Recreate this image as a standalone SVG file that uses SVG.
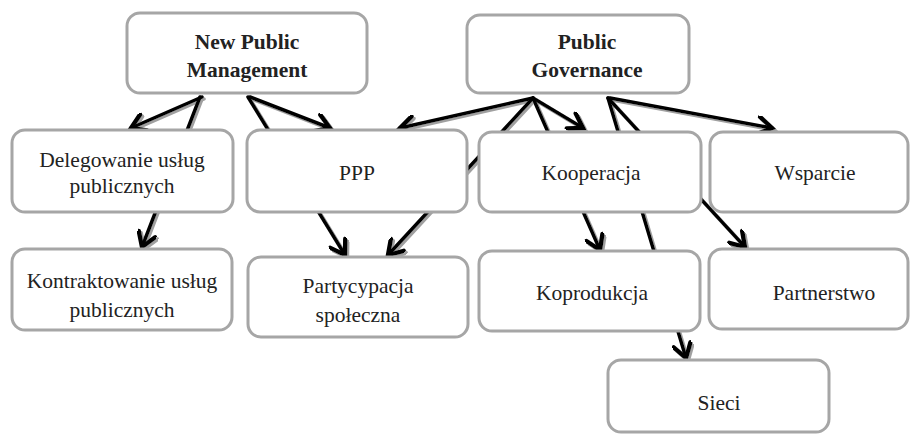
<svg xmlns="http://www.w3.org/2000/svg" width="922" height="438" viewBox="0 0 922 438">
<style>
.box{fill:#fff;stroke:#a6a6a6;stroke-width:3}
.t{font-family:"Liberation Serif","Times New Roman",serif;font-size:21.5px;fill:#222;text-anchor:middle}
.b{font-weight:bold}
.c{stroke:#000;stroke-width:3.5;fill:none;stroke-linecap:round}
</style>
<defs>
<marker id="ah" markerUnits="userSpaceOnUse" markerWidth="20" markerHeight="20" refX="13" refY="8" orient="auto" viewBox="0 0 16 16">
<path d="M2,1 L13,8 L2,15" fill="none" stroke="#000" stroke-width="3.5" stroke-linecap="round" stroke-linejoin="miter"/>
</marker>
<filter id="sh" x="-20%" y="-20%" width="140%" height="140%">
<feDropShadow dx="2" dy="2" stdDeviation="0.6" flood-color="#888" flood-opacity="0.8"/>
</filter>
</defs>
<g id="connectors" filter="url(#sh)">
<line class="c" x1="202" y1="97" x2="131" y2="128" marker-end="url(#ah)"/>
<line class="c" x1="200" y1="97" x2="142" y2="247" marker-end="url(#ah)"/>
<line class="c" x1="248" y1="97" x2="345" y2="255" marker-end="url(#ah)"/>
<line class="c" x1="250" y1="97" x2="330" y2="128" marker-end="url(#ah)"/>
<line class="c" x1="533" y1="98" x2="400" y2="128" marker-end="url(#ah)"/>
<line class="c" x1="533" y1="98" x2="388" y2="255" marker-end="url(#ah)"/>
<line class="c" x1="533" y1="98" x2="600" y2="250" marker-end="url(#ah)"/>
<line class="c" x1="533" y1="98" x2="583" y2="128" marker-end="url(#ah)"/>
<line class="c" x1="608" y1="98" x2="686" y2="358" marker-end="url(#ah)"/>
<line class="c" x1="608" y1="98" x2="745" y2="247" marker-end="url(#ah)"/>
<line class="c" x1="610" y1="98" x2="772" y2="128" marker-end="url(#ah)"/>
</g>
<g id="npm"><rect class="box" x="127" y="13" width="240" height="80" rx="13"/><text class="t b" x="247" y="49">New Public</text><text class="t b" x="247" y="77">Management</text></g>
<g id="pg"><rect class="box" x="467" y="15" width="222" height="78" rx="13"/><text class="t b" x="587" y="49">Public</text><text class="t b" x="587" y="77">Governance</text></g>
<g id="delegowanie"><rect class="box" x="12" y="130" width="221" height="82" rx="13"/><text class="t" x="122" y="167">Delegowanie usług</text><text class="t" x="122" y="193">publicznych</text></g>
<g id="ppp"><rect class="box" x="247" y="130" width="220" height="82" rx="13"/><text class="t" x="357" y="180">PPP</text></g>
<g id="kooperacja"><rect class="box" x="479" y="132" width="222" height="80" rx="13"/><text class="t" x="591" y="180">Kooperacja</text></g>
<g id="wsparcie"><rect class="box" x="710" y="132" width="198" height="80" rx="13"/><text class="t" x="815" y="180">Wsparcie</text></g>
<g id="kontraktowanie"><rect class="box" x="12" y="249" width="220" height="81" rx="13"/><text class="t" x="122" y="288">Kontraktowanie usług</text><text class="t" x="122" y="317">publicznych</text></g>
<g id="partycypacja"><rect class="box" x="248" y="257" width="220" height="80" rx="13"/><text class="t" x="358" y="293">Partycypacja</text><text class="t" x="358" y="322">społeczna</text></g>
<g id="koprodukcja"><rect class="box" x="479" y="251" width="221" height="80" rx="13"/><text class="t" x="592" y="300">Koprodukcja</text></g>
<g id="partnerstwo"><rect class="box" x="709" y="249" width="199" height="80" rx="13"/><text class="t" x="824" y="300">Partnerstwo</text></g>
<g id="sieci"><rect class="box" x="608" y="360" width="221" height="72" rx="13"/><text class="t" x="719" y="410">Sieci</text></g>
</svg>
